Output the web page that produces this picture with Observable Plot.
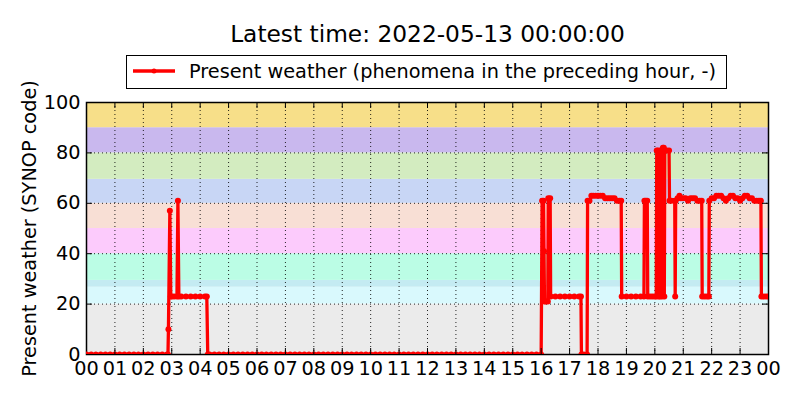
<!DOCTYPE html>
<html><head><meta charset="utf-8">
<script src="https://cdn.jsdelivr.net/npm/d3@7"></script>
<script src="https://cdn.jsdelivr.net/npm/@observablehq/plot@0.6"></script>
<style>
body{margin:0;background:#fff;font-family:"DejaVu Sans",sans-serif;color:#000;}
#wrap{position:relative;width:800px;height:400px;overflow:hidden;}
#wrap svg{position:absolute;left:0;top:0;}
#title{position:absolute;left:0;width:855px;top:20px;text-align:center;font-size:23.3px;line-height:28px;z-index:2;white-space:nowrap;}
#legend{position:absolute;left:126px;top:55px;width:601px;height:34px;box-sizing:border-box;border:1px solid #000;background:#fff;z-index:2;}
#legend span{position:absolute;left:62px;top:6px;font-size:19.3px;line-height:20px;white-space:nowrap;}
#legend svg{position:absolute;left:0;top:0;}
</style></head>
<body>
<div id="wrap">
  <div id="title">Latest time: 2022-05-13 00:00:00</div>
  <div id="legend"><svg width="60" height="32"><line x1="6" x2="48" y1="15" y2="15" stroke="red" stroke-width="3.3"/><circle cx="27" cy="15" r="2.5" fill="red"/></svg><span>Present weather (phenomena in the preceding hour, -)</span></div>
</div>
<script>
const titleText = "Latest time: 2022-05-13 00:00:00";
const seriesName = "Present weather (phenomena in the preceding hour, -)";
const yLabel = "Present weather (SYNOP code)";
const hourLabels = ["00","01","02","03","04","05","06","07","08","09","10","11","12","13","14","15","16","17","18","19","20","21","22","23","00"];
const yTicks = [0,20,40,60,80,100];

// background bands (SYNOP code ranges)
const bandLow  = [0, 20, 26.7, 29.4, 40, 50, 60, 69.5, 80, 90];
const bandHigh = [20, 26.7, 29.4, 40, 50, 60, 69.5, 80, 90, 100];
const bandColors = ["#ebebeb","#d9f9fd","#c4ebf2","#bbfde5","#fccbfc","#f8dfd5","#c8d6f5","#d3ecc0","#c9b8ee","#f7df89"];

// observations (time of day, SYNOP code)
const times = [
"00:00","00:10","00:20","00:30","00:40","00:50","01:00","01:10","01:20","01:30","01:40","01:50","02:00","02:10","02:20","02:30","02:40","02:50",
"02:52","02:53","02:56","02:58","03:00","03:05","03:11","03:13","03:15","03:20","03:30","03:40","03:50","04:00","04:10","04:14","04:16",
"04:20","04:30","04:40","04:50",
"05:00","05:10","05:20","05:30","05:40","05:50","06:00","06:10","06:20","06:30","06:40","06:50",
"07:00","07:10","07:20","07:30","07:40","07:50","08:00","08:10","08:20","08:30","08:40","08:50",
"09:00","09:10","09:20","09:30","09:40","09:50","10:00","10:10","10:20","10:30","10:40","10:50",
"11:00","11:10","11:20","11:30","11:40","11:50","12:00","12:10","12:20","12:30","12:40","12:50",
"13:00","13:10","13:20","13:30","13:40","13:50","14:00","14:10","14:20","14:30","14:40","14:50",
"15:00","15:10","15:20","15:30","15:40","15:50","16:00",
"16:02","16:05","16:06","16:07","16:10","16:14","16:15","16:19","16:20","16:30","16:40","16:50","17:00","17:10","17:20","17:24",
"17:25","17:30","17:37","17:38","17:42","17:46","17:50","17:55","18:00","18:05","18:10",
"18:15","18:20","18:25","18:30","18:35","18:40","18:45","18:49",
"18:50","19:00","19:10","19:20","19:30","19:37","19:38","19:41","19:44","19:45","19:50","19:55","20:00","20:03",
"20:04","20:07","20:08","20:11","20:12","20:14","20:15","20:17","20:19","20:20","20:21","20:25","20:30",
"20:31","20:35","20:42","20:43","20:44","20:48","20:52","20:55",
"21:00","21:05","21:10","21:15","21:20","21:25","21:30","21:35","21:39","21:40","21:45","21:50","21:54","21:55",
"22:00","22:05","22:10","22:15","22:20","22:25","22:30","22:35","22:40","22:45","22:50","22:55",
"23:00","23:05","23:10","23:15","23:20","23:25","23:30","23:35","23:40","23:44","23:45","23:50","23:55","24:00"
];
const values = [
0,0,0,0,0,0,0,0,0,0,0,0,0,0,0,0,0,0,
0,10,57,23,23,23,23,61,23,23,23,23,23,23,23,23,0,
0,0,0,0,
0,0,0,0,0,0,0,0,0,0,0,0,
0,0,0,0,0,0,0,0,0,0,0,0,
0,0,0,0,0,0,0,0,0,0,0,0,
0,0,0,0,0,0,0,0,0,0,0,0,
0,0,0,0,0,0,0,0,0,0,0,0,
0,0,0,0,0,0,0,
61,61,41,21,21,21,62,62,23,23,23,23,23,23,23,23,
0,0,0,61,61,63,63,63,63,63,63,
62,62,62,62,62,61,61,61,
23,23,23,23,23,23,61,61,61,23,23,23,23,23,
81,81,23,23,81,81,23,82,82,23,81,81,81,
61,61,61,23,61,62,63,62,
62,62,61,62,62,62,61,61,61,23,23,23,23,61,
62,62,63,63,63,62,61,62,63,63,62,62,
61,62,63,63,62,62,61,61,61,61,23,23,23,23
];

const toDate = s => { const [h, m] = s.split(":").map(Number); return new Date(Date.UTC(2022, 4, 12, h, m)); };
const data = times.map((t, i) => ({time: toDate(t), value: values[i]}));
const hourTicks = hourLabels.map((_, i) => new Date(Date.UTC(2022, 4, 12, i)));
const t0 = hourTicks[0], t1 = hourTicks[hourTicks.length - 1];
const bands = bandLow.map((lo, i) => ({x1: t0, x2: t1, y1: lo, y2: bandHigh[i], color: bandColors[i]}));
const innerHours = hourTicks.slice(1, -1);
const innerY = yTicks.slice(1, -1);

const W = 800, H = 400, mL = 86, mR = 32, mT = 102, mB = 46;
const fw = W - mL - mR, fh = H - mT - mB, tl = 6;

const chart = Plot.plot({
  width: W, height: H,
  marginLeft: mL, marginRight: mR, marginTop: mT, marginBottom: mB,
  style: {fontFamily: "DejaVu Sans", fontSize: "19.3px", color: "#000", background: "transparent"},
  x: {type: "utc", domain: [t0, t1], ticks: hourTicks, tickSize: 0, tickPadding: 7,
      tickFormat: d => hourLabels[Math.round((d - t0) / 3600000)], label: null},
  y: {domain: [0, 100], ticks: yTicks, tickSize: 0, tickPadding: 6, label: null},
  color: {type: "identity"},
  marks: [
    Plot.rect(bands, {x1: "x1", x2: "x2", y1: "y1", y2: "y2", fill: "color"}),
    Plot.ruleX(innerHours, {x: d => d, stroke: "#000", strokeWidth: 1, strokeDasharray: "1,3", strokeOpacity: 0.85}),
    Plot.ruleY(innerY, {y: d => d, stroke: "#000", strokeWidth: 1, strokeDasharray: "1,3", strokeOpacity: 0.85}),
    Plot.frame({stroke: "#000", strokeWidth: 1.5}),
    Plot.line(data, {x: "time", y: "value", stroke: "red", strokeWidth: 3.3, clip: true}),
    Plot.dot(data, {x: "time", y: "value", r: 3, fill: "red", stroke: "none", clip: true}),
    Plot.tickX(innerHours, {x: d => d, insetTop: fh - tl, stroke: "#000"}),
    Plot.tickX(innerHours, {x: d => d, insetBottom: fh - tl, stroke: "#000"}),
    Plot.tickY(innerY, {y: d => d, insetRight: fw - tl, stroke: "#000"}),
    Plot.tickY(innerY, {y: d => d, insetLeft: fw - tl, stroke: "#000"}),
    Plot.text([yLabel], {text: d => d, frameAnchor: "left", textAnchor: "middle", dx: -57, rotate: -90, fontSize: 19.3, fill: "#000"})
  ]
});
document.getElementById("wrap").appendChild(chart);
</script>
</body></html>
